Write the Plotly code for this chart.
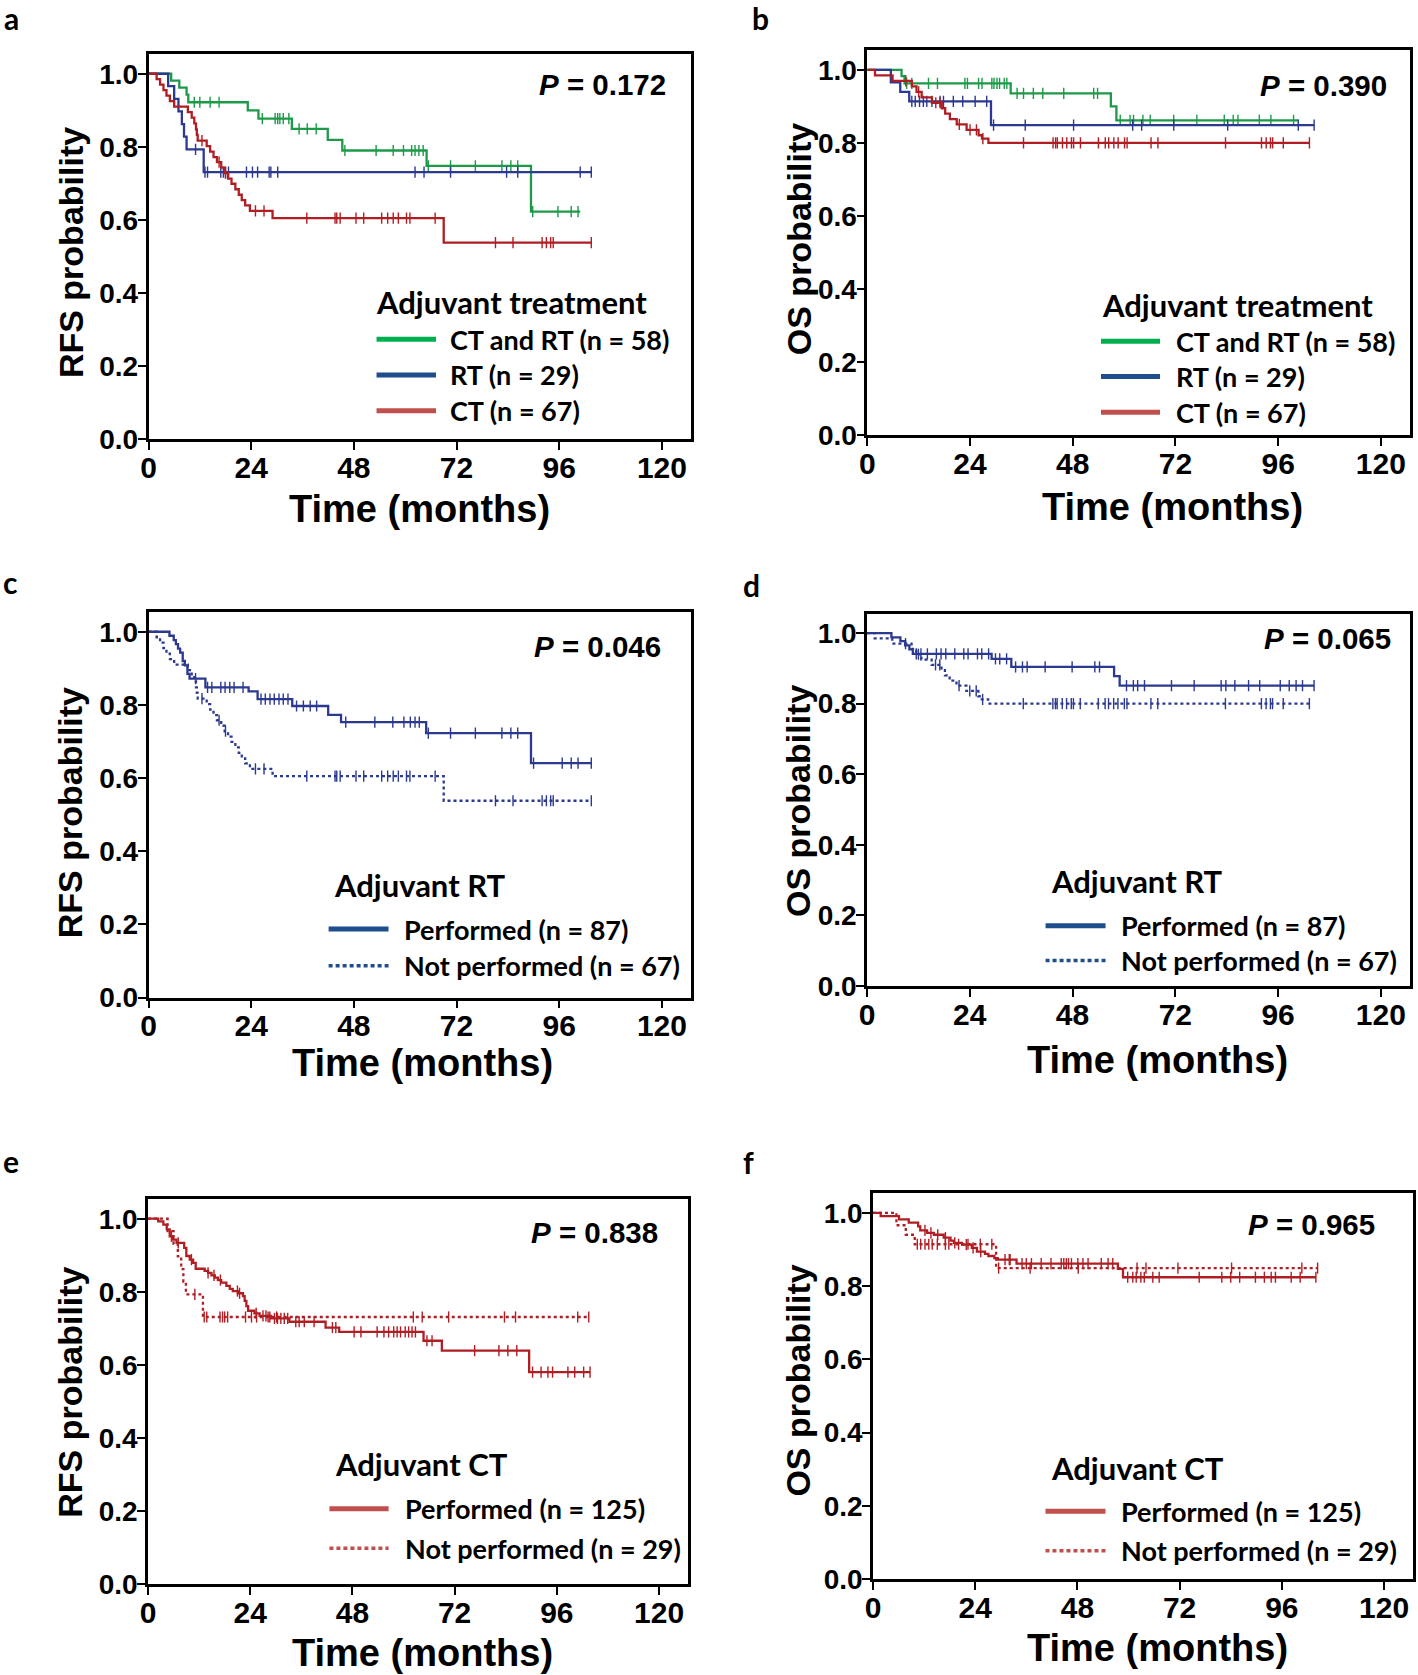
import plotly.graph_objects as go

W, H = 1418, 1675

# ---------------- data ----------------
x_ticks = [0, 24, 48, 72, 96, 120]
y_ticks = [0.0, 0.2, 0.4, 0.6, 0.8, 1.0]

# Panel a: RFS by adjuvant treatment
a_ctrt_t = [0, 5.3, 7.2, 8.9, 9.3, 23.2, 25.7, 33.5, 41.9, 45.3, 65.0, 89.4, 100.9]
a_ctrt_s = [1.0, 0.981, 0.962, 0.943, 0.922, 0.900, 0.877, 0.849, 0.819, 0.790, 0.748, 0.623, 0.623]
a_ctrt_c = [10.7, 12.0, 14.4, 16.5, 26.6, 29.6, 30.2, 30.7, 31.5, 32.8, 35.2, 37.1, 39.2, 45.9, 53.2,
            57.2, 59.6, 61.5, 62.3, 63.2, 64.2, 65.4, 70.6, 76.4, 82.6, 84.7, 86.3, 89.8, 95.7, 98.8, 100.4]
a_rt_t = [0, 4.6, 6.0, 7.0, 7.8, 8.3, 8.9, 12.9, 103.5]
a_rt_s = [1.0, 0.966, 0.931, 0.897, 0.862, 0.828, 0.793, 0.731, 0.731]
a_rt_c = [11.0, 13.2, 13.8, 16.9, 17.5, 18.0, 18.7, 22.9, 24.3, 25.5, 28.2, 28.6, 30.2, 62.3, 64.4,
          70.6, 83.7, 86.3, 100.9, 103.5]
a_ct_t = [0, 1.9, 2.7, 3.5, 4.2, 5.0, 6.0, 9.2, 10.1, 10.7, 11.1, 11.3, 11.5, 13.6, 14.4, 15.2, 16.0,
          17.0, 17.8, 18.6, 19.4, 20.3, 21.1, 21.8, 22.6, 23.7, 29.0, 69.0, 103.5]
a_ct_s = [1.0, 0.985, 0.970, 0.955, 0.940, 0.925, 0.910, 0.895, 0.880, 0.864, 0.848, 0.833, 0.817, 0.802,
          0.787, 0.772, 0.758, 0.743, 0.728, 0.713, 0.699, 0.684, 0.669, 0.654, 0.640, 0.625, 0.605, 0.538, 0.538]
a_ct_c = [12.5, 16.5, 18.0, 25.0, 27.0, 37.0, 43.6, 44.0, 44.8, 48.5, 50.3, 54.5, 55.9, 57.2, 58.4, 60.3,
          61.1, 67.0, 81.1, 85.2, 92.0, 93.0, 94.0, 94.6, 103.5]

# Panel b: OS by adjuvant treatment
b_ctrt_t = [0, 8.0, 8.7, 33.5, 56.9, 58.2, 100.7]
b_ctrt_s = [1.0, 0.983, 0.963, 0.936, 0.900, 0.862, 0.862]
b_ctrt_c = [9.2, 10.4, 14.3, 16.4, 22.8, 23.4, 26.0, 26.8, 29.1, 29.6, 30.3, 30.9, 32.0, 32.6, 35.0, 36.5,
            38.8, 41.0, 45.9, 52.9, 53.8, 59.1, 61.4, 62.2, 64.4, 66.1, 71.6, 77.0, 83.4, 85.5, 86.6, 91.6,
            94.3, 99.6]
b_rt_t = [0, 5.5, 7.7, 9.8, 28.9, 104.4]
b_rt_s = [1.0, 0.966, 0.940, 0.914, 0.849, 0.849]
b_rt_c = [10.4, 11.2, 12.2, 13.1, 13.9, 15.1, 17.0, 17.8, 20.1, 22.3, 25.2, 27.9, 29.5, 36.9, 48.2, 62.0,
          64.1, 71.6, 84.2, 100.7, 104.4]
b_ct_t = [0, 1.8, 5.9, 10.4, 11.5, 12.7, 15.1, 17.4, 18.2, 19.3, 20.9, 23.2, 26.0, 26.8, 28.3, 103.3]
b_ct_s = [1.0, 0.985, 0.970, 0.955, 0.940, 0.925, 0.910, 0.895, 0.880, 0.865, 0.851, 0.836, 0.821, 0.812,
          0.800, 0.800]
b_ct_c = [9.0, 12.0, 16.0, 17.0, 21.5, 24.0, 25.5, 27.0, 36.5, 43.4, 44.0, 44.4, 45.6, 46.6, 47.7, 48.2,
          49.8, 54.0, 55.6, 56.4, 57.6, 58.6, 60.1, 60.7, 66.3, 67.9, 83.7, 92.1, 93.2, 94.2, 94.7, 97.2, 103.3]

# Panel c: RFS, adjuvant RT performed (not performed = CT-only group of panel a)
c_rt_t = [0, 4.9, 5.9, 6.4, 6.9, 7.4, 8.0, 8.5, 9.1, 9.6, 13.3, 23.4, 25.5, 33.6, 42.0, 45.0, 64.9, 89.4, 103.5]
c_rt_s = [1.0, 0.989, 0.977, 0.966, 0.954, 0.943, 0.920, 0.908, 0.885, 0.872, 0.848, 0.837, 0.816, 0.797,
          0.773, 0.753, 0.723, 0.641, 0.641]
c_rt_c = [11.0, 13.8, 14.8, 16.9, 17.9, 19.0, 20.0, 22.1, 26.3, 27.3, 28.4, 29.4, 30.5, 31.5, 32.6, 34.6,
          36.2, 37.8, 39.3, 46.1, 52.9, 57.1, 59.7, 61.2, 62.3, 63.3, 65.4, 70.6, 76.4, 82.6, 84.7, 86.3,
          90.0, 96.7, 98.8, 100.4, 103.5]

# Panel d: OS, adjuvant RT performed (not performed = CT-only group of panel b)
d_rt_t = [0, 5.7, 7.8, 8.9, 9.9, 10.7, 29.1, 33.7, 57.7, 59.0, 104.4]
d_rt_s = [1.0, 0.988, 0.977, 0.965, 0.954, 0.941, 0.927, 0.904, 0.878, 0.851, 0.851]
d_rt_c = [11.5, 12.6, 14.1, 16.2, 17.3, 18.4, 20.5, 22.6, 23.6, 25.8, 26.8, 28.4, 30.0, 31.0, 32.6, 34.7,
          36.3, 37.4, 41.6, 47.9, 53.2, 54.3, 60.6, 62.2, 63.2, 64.8, 71.1, 76.4, 82.7, 83.8, 85.9, 89.1,
          91.7, 96.5, 98.6, 100.2, 101.7, 104.4]

# Panel e: RFS, adjuvant CT performed (not performed = RT-only group of panel a)
e_ct_t = [0, 2.4, 3.6, 4.4, 5.1, 5.9, 6.7, 8.5, 9.0, 9.8, 10.6, 11.2, 13.3, 14.1, 14.9, 15.7, 16.4, 17.2,
          18.4, 19.2, 19.9, 21.1, 22.3, 22.7, 23.1, 23.5, 25.0, 26.2, 28.9, 33.2, 41.7, 44.9, 64.7, 69.0,
          89.5, 103.8]
e_ct_s = [1.0, 0.993, 0.984, 0.971, 0.952, 0.943, 0.934, 0.920, 0.898, 0.888, 0.879, 0.863, 0.857, 0.852,
          0.845, 0.839, 0.832, 0.825, 0.816, 0.808, 0.802, 0.796, 0.788, 0.775, 0.761, 0.748, 0.741, 0.734,
          0.727, 0.718, 0.702, 0.690, 0.666, 0.639, 0.580, 0.580]
e_ct_c = [5.5, 7.1, 10.2, 14.1, 15.5, 17.0, 21.0, 21.5, 25.4, 27.0, 27.7, 29.7, 30.4, 31.2, 32.0, 32.8,
          34.7, 35.5, 36.7, 39.0, 43.3, 44.1, 48.4, 50.0, 53.8, 55.4, 56.5, 57.7, 58.5, 59.3, 60.4, 61.2,
          62.0, 62.8, 65.5, 66.7, 76.7, 82.4, 84.5, 86.6, 90.3, 92.3, 93.9, 95.0, 98.6, 100.2, 102.3, 103.8]

# Panel f: OS, adjuvant CT performed (not performed = RT-only group of panel b)
f_ct_t = [0, 1.8, 6.1, 8.4, 10.6, 11.1, 12.7, 14.3, 16.6, 18.2, 19.0, 20.9, 23.2, 24.4, 26.3, 27.1, 28.5,
          29.3, 33.7, 57.5, 58.7, 104.0]
f_ct_s = [1.0, 0.991, 0.982, 0.973, 0.963, 0.952, 0.945, 0.940, 0.932, 0.924, 0.918, 0.913, 0.904, 0.894,
          0.888, 0.882, 0.876, 0.872, 0.861, 0.847, 0.824, 0.824]
f_ct_c = [12.2, 13.6, 15.2, 17.0, 19.2, 21.9, 23.5, 25.3, 31.0, 32.0, 32.2, 35.0, 36.0, 37.2, 39.5, 41.8,
          44.2, 44.8, 45.4, 45.9, 46.6, 48.1, 49.3, 50.5, 53.6, 55.2, 56.3, 59.8, 61.0, 61.8, 62.9, 63.7,
          65.7, 67.2, 76.6, 81.9, 84.0, 86.1, 89.8, 91.9, 93.5, 94.5, 98.2, 100.3, 104.0]

p_values = ["0.172", "0.390", "0.046", "0.065", "0.838", "0.965"]
panel_letters = ["a", "b", "c", "d", "e", "f"]
y_titles = ["RFS probability", "OS probability"] * 3

# ---------------- styles ----------------
GREEN, BLUE, RED = "#1c9a48", "#2b3990", "#b01e24"
GREEN_L, BLUE_L, RED_L = "#00b050", "#1f4e8c", "#c0504d"
NUM_FONT = "Liberation Sans, Arial, sans-serif"
TXT_FONT = "Lato, Carlito, Calibri, sans-serif"


def step_value(t, s, x):
    v = s[0]
    for ti, si in zip(t, s):
        if ti <= x:
            v = si
    return v


# pixel boxes of each panel (left, right, top, bottom)
boxes = [
    (148.5, 691, 54, 439.3),
    (867.3, 1410, 50.2, 435),
    (148.5, 691, 612, 997.5),
    (867, 1410, 614, 986),
    (148, 688, 1199, 1584),
    (873, 1413, 1193, 1579),
]
XMAX, YMAX = 126.8, 1.054

fig = go.Figure()
layout = dict(width=W, height=H, margin=dict(l=0, r=0, t=0, b=0, autoexpand=False),
              paper_bgcolor="white", plot_bgcolor="white", showlegend=False)
shapes, annotations = [], []

for i, (l, r, t, b) in enumerate(boxes):
    n = "" if i == 0 else str(i + 1)
    layout["xaxis" + n] = dict(
        domain=[l / W, r / W], range=[0, XMAX], anchor="y" + n, automargin=False,
        tickvals=x_ticks, ticktext=[str(v) for v in x_ticks],
        ticks="outside", ticklen=8, tickwidth=2, tickcolor="black", ticklabelstandoff=-8,
        showline=True, linewidth=2.5, linecolor="black", mirror=True,
        showgrid=False, zeroline=False,
        tickfont=dict(family=NUM_FONT, size=30, color="black", weight="bold"))
    layout["yaxis" + n] = dict(
        domain=[1 - b / H, 1 - t / H], range=[0, YMAX], anchor="x" + n, automargin=False,
        tickvals=y_ticks, ticktext=["%.1f" % v for v in y_ticks],
        ticks="outside", ticklen=8, tickwidth=2, tickcolor="black", ticklabelstandoff=-6,
        showline=True, linewidth=2.5, linecolor="black", mirror=True,
        showgrid=False, zeroline=False,
        tickfont=dict(family=NUM_FONT, size=28, color="black", weight="bold"))


def add_curve(i, t, s, c, color, dash="solid"):
    n = "" if i == 0 else str(i + 1)
    fig.add_trace(go.Scatter(x=t, y=s, mode="lines", xaxis="x" + n, yaxis="y" + n,
                             line=dict(shape="hv", color=color, width=2.3, dash=dash),
                             hoverinfo="skip"))
    fig.add_trace(go.Scatter(x=c, y=[step_value(t, s, v) for v in c], mode="markers",
                             xaxis="x" + n, yaxis="y" + n,
                             marker=dict(symbol="line-ns", size=8, color=color,
                                         line=dict(width=1.4, color=color)),
                             hoverinfo="skip"))


DOT = "3px,3px"
add_curve(0, a_ctrt_t, a_ctrt_s, a_ctrt_c, GREEN)
add_curve(0, a_rt_t, a_rt_s, a_rt_c, BLUE)
add_curve(0, a_ct_t, a_ct_s, a_ct_c, RED)
add_curve(1, b_ctrt_t, b_ctrt_s, b_ctrt_c, GREEN)
add_curve(1, b_rt_t, b_rt_s, b_rt_c, BLUE)
add_curve(1, b_ct_t, b_ct_s, b_ct_c, RED)
add_curve(2, a_ct_t, a_ct_s, a_ct_c, BLUE, DOT)
add_curve(2, c_rt_t, c_rt_s, c_rt_c, BLUE)
add_curve(3, b_ct_t, b_ct_s, b_ct_c, BLUE, DOT)
add_curve(3, d_rt_t, d_rt_s, d_rt_c, BLUE)
add_curve(4, a_rt_t, a_rt_s, a_rt_c, RED, DOT)
add_curve(4, e_ct_t, e_ct_s, e_ct_c, RED)
add_curve(5, b_rt_t, b_rt_s, b_rt_c, RED, DOT)
add_curve(5, f_ct_t, f_ct_s, f_ct_c, RED)

# legends: (title, title_xy, sample x range, text x, [(y, color, dash, label)])
legends = [
    ("Adjuvant treatment", (52.7, 0.376), (53.3, 67.2), 70.0,
     [(0.274, GREEN_L, "solid", "CT and RT (n = 58)"), (0.176, BLUE_L, "solid", "RT (n = 29)"),
      (0.078, RED_L, "solid", "CT (n = 67)")]),
    ("Adjuvant treatment", (54.3, 0.357), (54.6, 68.4), 71.7,
     [(0.257, GREEN_L, "solid", "CT and RT (n = 58)"), (0.160, BLUE_L, "solid", "RT (n = 29)"),
      (0.062, RED_L, "solid", "CT (n = 67)")]),
    ("Adjuvant RT", (42.9, 0.307), (42.1, 56.1), 59.2,
     [(0.187, BLUE_L, "solid", "Performed (n = 87)"), (0.087, BLUE_L, "dot", "Not performed (n = 67)")]),
    ("Adjuvant RT", (42.6, 0.297), (41.7, 55.7), 58.9,
     [(0.171, BLUE_L, "solid", "Performed (n = 87)"), (0.072, BLUE_L, "dot", "Not performed (n = 67)")]),
    ("Adjuvant CT", (43.5, 0.328), (42.6, 56.5), 59.8,
     [(0.206, RED_L, "solid", "Performed (n = 125)"), (0.098, RED_L, "dot", "Not performed (n = 29)")]),
    ("Adjuvant CT", (41.4, 0.304), (40.5, 54.6), 57.8,
     [(0.185, RED_L, "solid", "Performed (n = 125)"), (0.077, RED_L, "dot", "Not performed (n = 29)")]),
]
LEG_FONT = dict(family=TXT_FONT, size=27, color="black", weight="bold")
LEG_TITLE_FONT = dict(family=TXT_FONT, size=31, color="black", weight="bold")
for i, (title, (tx, ty), (sx0, sx1), txx, items) in enumerate(legends):
    n = "" if i == 0 else str(i + 1)
    annotations.append(dict(text=title, x=tx, y=ty, xref="x" + n, yref="y" + n, showarrow=False,
                            xanchor="left", yanchor="middle", font=LEG_TITLE_FONT))
    for (yy, col, dash, lab) in items:
        shapes.append(dict(type="line", xref="x" + n, yref="y" + n, x0=sx0, x1=sx1, y0=yy, y1=yy,
                           line=dict(color=col, width=5 if dash == "solid" else 3.5,
                                     dash="solid" if dash == "solid" else "4px,3px")))
        annotations.append(dict(text=lab, x=txx, y=yy, xref="x" + n, yref="y" + n, showarrow=False,
                                xanchor="left", yanchor="middle", font=LEG_FONT))

# P values
p_pos = [(121.4, 0.970), (122.0, 0.958), (120.3, 0.960), (122.8, 0.984), (120.2, 0.962), (118.4, 0.969)]
for i, (px, py) in enumerate(p_pos):
    n = "" if i == 0 else str(i + 1)
    annotations.append(dict(text="<i>P</i> = " + p_values[i], x=px, y=py, xref="x" + n, yref="y" + n,
                            showarrow=False, xanchor="right", yanchor="middle",
                            font=dict(family=NUM_FONT, size=29.5, color="black", weight="bold")))

# axis titles and panel letters (pixel positions)
ytitle_pos = [(70.5, 252.6), (798.5, 238.7), (69.6, 812.6), (798.5, 800.5), (69.6, 1392.1), (798.5, 1380.1)]
xtitle_pos = [(419.8, 508.6), (1172.9, 506.9), (422, 1063.4), (1157, 1060), (422, 1652.8), (1157, 1647.6)]
letter_pos = [(11, 18), (760, 17.5), (9.5, 582), (752, 585), (10.5, 1160.5), (748.5, 1162)]
for i in range(6):
    yx, yy = ytitle_pos[i]
    annotations.append(dict(text=y_titles[i], x=yx / W, y=1 - yy / H, xref="paper", yref="paper",
                            showarrow=False, textangle=-90, xanchor="center", yanchor="middle",
                            font=dict(family=NUM_FONT, size=34, color="black", weight="bold")))
    xx, xy = xtitle_pos[i]
    annotations.append(dict(text="Time (months)", x=xx / W, y=1 - xy / H, xref="paper", yref="paper",
                            showarrow=False, xanchor="center", yanchor="middle",
                            font=dict(family=NUM_FONT, size=38, color="black", weight="bold")))
    lx, ly = letter_pos[i]
    annotations.append(dict(text=panel_letters[i], x=lx / W, y=1 - ly / H, xref="paper", yref="paper",
                            showarrow=False, xanchor="center", yanchor="middle",
                            font=dict(family=TXT_FONT, size=30, color="black", weight="bold")))

layout["shapes"] = shapes
layout["annotations"] = annotations
fig.update_layout(**layout)
fig.write_html("out.html", config={"displayModeBar": False},
               post_script="document.body.style.margin='0';document.body.style.overflow='hidden';")
